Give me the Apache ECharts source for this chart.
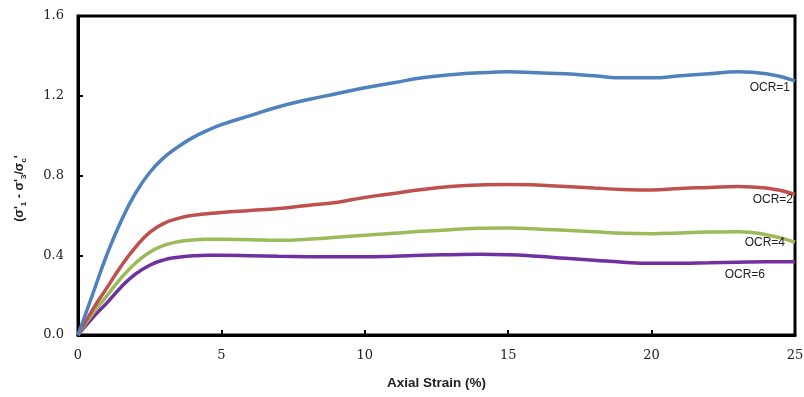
<!DOCTYPE html>
<html>
<head>
<meta charset="utf-8">
<script src="https://cdn.jsdelivr.net/npm/echarts@6/dist/echarts.min.js"></script>
<style>html,body{margin:0;padding:0;background:#fff;}#chart{width:804px;height:397px;}</style>
</head>
<body>
<div id="chart"></div>
<script>
const strain = [0, 0.5, 1, 1.5, 2, 2.5, 3, 3.5, 4, 4.5, 5, 6, 7, 8, 9, 10, 11, 12, 13, 14, 15, 16, 17, 18, 19, 20, 21, 22, 23, 24, 25];
const ocr1 = [0, 0.20, 0.40, 0.57, 0.71, 0.815, 0.89, 0.945, 0.99, 1.025, 1.055, 1.10, 1.145, 1.18, 1.21, 1.24, 1.265, 1.29, 1.305, 1.315, 1.32, 1.315, 1.31, 1.30, 1.29, 1.29, 1.30, 1.31, 1.32, 1.31, 1.275];
const ocr2 = [0, 0.125, 0.235, 0.345, 0.44, 0.515, 0.56, 0.585, 0.60, 0.608, 0.615, 0.625, 0.635, 0.65, 0.665, 0.69, 0.71, 0.73, 0.745, 0.752, 0.755, 0.752, 0.745, 0.737, 0.73, 0.727, 0.735, 0.74, 0.745, 0.737, 0.705];
const ocr4 = [0, 0.105, 0.195, 0.285, 0.36, 0.415, 0.45, 0.468, 0.477, 0.48, 0.48, 0.478, 0.475, 0.48, 0.49, 0.50, 0.51, 0.52, 0.528, 0.535, 0.537, 0.532, 0.525, 0.518, 0.51, 0.508, 0.512, 0.516, 0.518, 0.503, 0.466];
const ocr6 = [0, 0.085, 0.16, 0.24, 0.305, 0.35, 0.377, 0.39, 0.397, 0.40, 0.40, 0.398, 0.395, 0.393, 0.392, 0.392, 0.395, 0.40, 0.403, 0.405, 0.403, 0.395, 0.385, 0.375, 0.365, 0.36, 0.36, 0.362, 0.365, 0.367, 0.367];
const seriesNames = ['OCR=1', 'OCR=2', 'OCR=4', 'OCR=6'];
const seriesColors = ['#4F81BD', '#C0504D', '#9BBB59', '#7030A0'];
const labelOffsets = [[-5, 7], [-2, 5], [-10, 1], [-30, 13]];
const allValues = [ocr1, ocr2, ocr4, ocr6];

const chart = echarts.init(document.getElementById('chart'));
const series = allValues.map((vals, i) => {
  const data = strain.map((s, j) => [s, vals[j]]);
  const last = data[data.length - 1];
  return {
    name: seriesNames[i],
    type: 'line',
    data: data,
    smooth: 0.5,
    showSymbol: false,
    symbol: 'none',
    lineStyle: { color: seriesColors[i], width: 3.5 },
    itemStyle: { color: seriesColors[i] },
    z: 2 + (3 - i),
    markPoint: {
      symbol: 'circle',
      symbolSize: 0,
      silent: true,
      data: [{ coord: last }],
      label: {
        show: true,
        position: 'inside',
        formatter: seriesNames[i],
        align: 'right',
        verticalAlign: 'middle',
        offset: labelOffsets[i],
        color: '#222',
        fontFamily: 'Liberation Sans',
        fontSize: 12
      }
    }
  };
});

chart.setOption({
  animation: false,
  backgroundColor: '#fff',
  grid: { left: 78, right: 9, top: 16, bottom: 62, containLabel: false, outerBoundsMode: 'none', show: true, borderColor: '#000', borderWidth: 3, backgroundColor: 'transparent' },
  xAxis: {
    type: 'value', min: 0, max: 25, interval: 5,
    name: 'Axial Strain (%)', nameLocation: 'middle', nameGap: 41,
    nameTextStyle: { fontFamily: 'Liberation Sans', fontWeight: 'bold', fontSize: 13.5, color: '#222' },
    axisLine: { show: true, onZero: false, lineStyle: { color: '#000', width: 3 } },
    axisTick: { show: true, inside: true, length: 5, lineStyle: { color: '#000', width: 2 } },
    axisLabel: { margin: 14, fontFamily: 'DejaVu Serif', fontSize: 13, color: '#222' },
    splitLine: { show: false }
  },
  yAxis: {
    type: 'value', min: 0, max: 1.6, interval: 0.4,
    name: '{m|(σ\'}{s|1}{m| - σ\'}{s|3}{m|/σ}{s|c}{m|\'}',
    nameLocation: 'middle', nameGap: 50, nameRotate: 90,
    nameTextStyle: {
      padding: [0, 26, 0, 0],
      rich: {
        m: { fontFamily: 'Liberation Sans', fontWeight: 'bold', fontSize: 12.5, color: '#222', lineHeight: 16, verticalAlign: 'middle' },
        s: { fontFamily: 'Liberation Sans', fontWeight: 'bold', fontSize: 8, color: '#222', lineHeight: 16, verticalAlign: 'bottom' }
      }
    },
    axisLine: { show: true, lineStyle: { color: '#000', width: 3 } },
    axisTick: { show: true, inside: true, length: 5, lineStyle: { color: '#000', width: 2 } },
    axisLabel: { margin: 14, fontFamily: 'DejaVu Serif', fontSize: 13, color: '#222', formatter: v => v.toFixed(1) },
    splitLine: { show: false }
  },
  series: series
});
</script>
</body>
</html>
